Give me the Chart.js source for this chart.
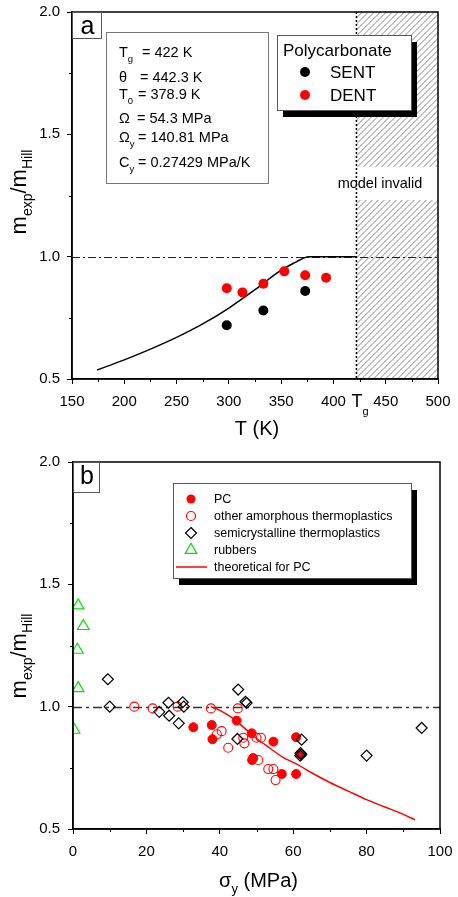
<!DOCTYPE html>
<html><head><meta charset="utf-8">
<script src="https://cdn.jsdelivr.net/npm/chart.js@4.4.0/dist/chart.umd.min.js"></script>
<style>
html,body{margin:0;padding:0;background:#fff;}
canvas{position:absolute;left:0;}
#ca{top:0;}
#cb{top:445px;}
</style></head><body>
<canvas id="ca" width="458" height="445"></canvas>
<canvas id="cb" width="458" height="452"></canvas>
<script>
// ---------- Panel a data ----------
const sentT = [298, 333, 373];
const sentRatio = [0.72, 0.78, 0.86];
const dentT = [298, 313, 333, 353, 373, 393];
const dentRatio = [0.871, 0.854, 0.889, 0.94, 0.924, 0.914];
const modelT = [174, 200, 225, 250, 275, 300, 325, 350, 365, 372, 377, 422];
const modelRatio = [0.537, 0.578, 0.622, 0.67, 0.725, 0.79, 0.865, 0.945, 0.98, 0.995, 1.0, 1.0];
const TG = 422;
const xTicksA = [150, 200, 250, 300, 350, 400, 450, 500];
const yTicks = [0.5, 1.0, 1.5, 2.0];
const paramLines = [
  ['T', 'g', '= 422 K'],
  ['\u03b8', '', '= 442.3 K'],
  ['T', '0', '= 378.9 K'],
  ['\u03a9', '', '= 54.3 MPa'],
  ['\u03a9', 'y', '= 140.81 MPa'],
  ['C', 'y', '= 0.27429 MPa/K']
];

// ---------- Panel b data ----------
const pcSigma = [32.8, 37.8, 38.0, 44.6, 48.7, 48.8, 49.1, 54.6, 56.9, 60.8, 60.8, 61.9];
const pcRatio = [0.916, 0.925, 0.867, 0.943, 0.891, 0.782, 0.79, 0.857, 0.725, 0.875, 0.725, 0.805];
const amorphSigma = [16.7, 21.7, 28.5, 37.6, 44.9, 39.2, 40.5, 42.3, 46.4, 46.7, 50.0, 51.2, 50.5, 53.2, 54.6, 55.2];
const amorphRatio = [1.0, 0.993, 1.0, 0.993, 0.993, 0.887, 0.90, 0.832, 0.873, 0.85, 0.873, 0.873, 0.782, 0.745, 0.745, 0.70];
const semiSigma = [9.5, 10.0, 23.5, 26.0, 26.2, 28.8, 29.9, 30.2, 45.0, 47.0, 47.3, 44.8, 62.3, 62.0, 61.9, 62.2, 80.0, 95.0];
const semiRatio = [1.112, 1.0, 0.979, 1.016, 0.963, 0.932, 1.018, 1.0, 1.07, 1.02, 1.015, 0.868, 0.865, 0.81, 0.80, 0.805, 0.80, 0.913];
const rubberSigma = [1.4, 2.8, 1.2, 1.4, 0.3];
const rubberRatio = [1.413, 1.329, 1.232, 1.075, 0.905];
const theorySigma = [37.5, 40, 42.8, 45, 47.3, 50, 53.7, 57, 61, 65, 70, 75, 80, 85, 90, 93.2];
const theoryRatio = [1.0, 0.985, 0.96, 0.935, 0.905, 0.87, 0.83, 0.795, 0.765, 0.73, 0.69, 0.655, 0.62, 0.59, 0.56, 0.537];
const xTicksB = [0, 20, 40, 60, 80, 100];
const legendB = ['PC', 'other amorphous thermoplastics', 'semicrystalline thermoplastics', 'rubbers', 'theoretical for PC'];

const FONT = "'Liberation Sans', Arial, Helvetica, sans-serif";
const RED = '#ff0000', GREEN = '#00e000';
const pts = (xs, ys) => xs.map((v, i) => ({x: v, y: ys[i]}));
const mids = arr => arr.slice(1).map((v, i) => (v + arr[i]) / 2);

function runs(ctx, x, y, items) {
  let cx = x;
  for (const [t, s, dy] of items) {
    ctx.font = s + 'px ' + FONT;
    ctx.fillText(t, cx, y + dy);
    cx += ctx.measureText(t).width;
  }
  return cx;
}
function runsWidth(ctx, items) {
  let w = 0;
  for (const [t, s] of items) { ctx.font = s + 'px ' + FONT; w += ctx.measureText(t).width; }
  return w;
}
function drawMinor(chart, xs, ys) {
  const {ctx, chartArea: ca, scales: {x, y}} = chart;
  ctx.save();
  ctx.strokeStyle = '#000'; ctx.lineWidth = 1;
  ctx.beginPath();
  xs.forEach(v => { const p = Math.round(x.getPixelForValue(v)) + 0.5; ctx.moveTo(p, ca.bottom); ctx.lineTo(p, ca.bottom + 3); });
  ys.forEach(v => { const p = Math.round(y.getPixelForValue(v)) + 0.5; ctx.moveTo(ca.left, p); ctx.lineTo(ca.left - 3, p); });
  ctx.stroke();
  ctx.restore();
}
function yTitle(ctx, cx, cy) {
  const items = [['m', 22, 0], ['exp', 14, 6], ['/', 22, 0], ['m', 22, 0], ['Hill', 14, 6]];
  ctx.save();
  ctx.translate(cx, cy); ctx.rotate(-Math.PI / 2);
  ctx.fillStyle = '#000'; ctx.textBaseline = 'alphabetic'; ctx.textAlign = 'left';
  const w = runsWidth(ctx, items);
  runs(ctx, -w / 2, 0, items);
  ctx.restore();
}
function frame(chart) {
  const {ctx, chartArea: ca} = chart;
  ctx.save(); ctx.strokeStyle = '#000'; ctx.lineWidth = 1.5;
  ctx.strokeRect(ca.left, ca.top, ca.right - ca.left, ca.bottom - ca.top);
  ctx.restore();
}
function letterBox(ctx, x, y, w, h, letter, cy) {
  ctx.save();
  ctx.fillStyle = '#fff'; ctx.fillRect(x, y, w, h);
  ctx.strokeStyle = '#555'; ctx.lineWidth = 1; ctx.strokeRect(x + 0.5, y + 0.5, w, h);
  ctx.fillStyle = '#000'; ctx.font = '25px ' + FONT; ctx.textAlign = 'center'; ctx.textBaseline = 'middle';
  ctx.fillText(letter, x + w / 2 + 1, cy);
  ctx.restore();
}
function shadowBox(ctx, x, y, w, h, dx, dy) {
  ctx.fillStyle = '#000'; ctx.fillRect(x + dx, y + dy, w, h);
  ctx.fillStyle = '#fff'; ctx.fillRect(x, y, w, h);
  ctx.strokeStyle = '#555'; ctx.lineWidth = 1; ctx.strokeRect(x + 0.5, y + 0.5, w, h);
}

const tickFont = {family: FONT, size: 15};
function scaleX(min, max, ticks, h) {
  return {
    type: 'linear', min, max,
    afterFit(s) { s.height = h; s.paddingLeft = 0; s.paddingRight = 0; },
    afterBuildTicks(s) { s.ticks = ticks.map(v => ({value: v})); },
    ticks: {autoSkip: false, maxRotation: 0, color: '#000', font: tickFont, padding: 9, callback: v => String(v)},
    grid: {drawOnChartArea: false, drawTicks: true, tickLength: 5, color: '#000', lineWidth: 1},
    border: {display: true, color: '#000', width: 1.5}
  };
}
function scaleY(w, pad) {
  return {
    type: 'linear', min: 0.5, max: 2.0,
    afterFit(s) { s.width = w; s.paddingTop = 0; s.paddingBottom = 0; },
    afterBuildTicks(s) { s.ticks = yTicks.map(v => ({value: v})); },
    ticks: {color: '#000', font: tickFont, padding: pad, callback: v => Number(v).toFixed(1)},
    grid: {drawOnChartArea: false, drawTicks: true, tickLength: 5, color: '#000', lineWidth: 1},
    border: {display: true, color: '#000', width: 1.5}
  };
}

// ---------------- Chart a ----------------
const pluginA = {
  id: 'panelA',
  beforeDatasetsDraw(chart) {
    const {ctx, chartArea: ca, scales: {x, y}} = chart;
    const xg = x.getPixelForValue(TG);
    const g1 = y.getPixelForValue(1.366), g2 = y.getPixelForValue(1.232);
    ctx.save();
    const hatch = (top, bottom) => {
      ctx.save();
      ctx.beginPath(); ctx.rect(xg, top, ca.right - xg, bottom - top); ctx.clip();
      ctx.strokeStyle = '#777'; ctx.lineWidth = 0.9;
      const H = ca.bottom - ca.top;
      ctx.beginPath();
      for (let k = xg - H; k < ca.right + 8; k += 6) { ctx.moveTo(k, ca.bottom); ctx.lineTo(k + H, ca.top); }
      ctx.stroke();
      ctx.restore();
    };
    hatch(ca.top, g1); hatch(g2, ca.bottom);
    // dash-dot reference
    const y1 = Math.round(y.getPixelForValue(1.0)) + 0.5;
    ctx.setLineDash([8, 3, 2, 3]); ctx.strokeStyle = '#222'; ctx.lineWidth = 1;
    ctx.beginPath(); ctx.moveTo(ca.left, y1); ctx.lineTo(ca.right, y1); ctx.stroke();
    // dotted Tg line
    ctx.setLineDash([2, 2]); ctx.strokeStyle = '#000'; ctx.lineWidth = 1.5;
    ctx.beginPath(); ctx.moveTo(xg, ca.top); ctx.lineTo(xg, ca.bottom); ctx.stroke();
    ctx.setLineDash([]);
    ctx.fillStyle = '#000'; ctx.font = '14.5px ' + FONT; ctx.textAlign = 'center'; ctx.textBaseline = 'middle';
    ctx.fillText('model invalid', x.getPixelForValue(444.5), y.getPixelForValue(1.295));
    ctx.restore();
  },
  afterDatasetsDraw(chart) {
    const {ctx, chartArea: ca, scales: {x}} = chart;
    frame(chart);
    ctx.save();
    letterBox(ctx, ca.left, ca.top, 29, 26, 'a', ca.top + 15);
    // parameter box
    ctx.fillStyle = '#fff'; ctx.fillRect(106, 32, 162, 151);
    ctx.strokeStyle = '#777'; ctx.lineWidth = 1; ctx.strokeRect(106.5, 32.5, 162, 151);
    ctx.fillStyle = '#000'; ctx.textAlign = 'left'; ctx.textBaseline = 'alphabetic';
    const base = [57, 82, 99, 123, 142, 167];
    const eqx = [142, 140, 138, 137, 138, 138];
    paramLines.forEach((p, i) => {
      runs(ctx, 119, base[i], [[p[0], 14.5, 0], [p[1], 9.5, 5]]);
      ctx.font = '14.5px ' + FONT;
      ctx.fillText(p[2], eqx[i], base[i]);
    });
    // legend
    shadowBox(ctx, 277, 35, 134, 75, 6, 7);
    ctx.fillStyle = '#000'; ctx.font = '17px ' + FONT; ctx.textBaseline = 'middle';
    ctx.fillText('Polycarbonate', 283, 51);
    ctx.fillText('SENT', 330, 73);
    ctx.fillText('DENT', 330, 96);
    ctx.beginPath(); ctx.arc(305, 72, 5, 0, Math.PI * 2); ctx.fillStyle = '#000'; ctx.fill();
    ctx.beginPath(); ctx.arc(305, 95, 5, 0, Math.PI * 2); ctx.fillStyle = RED; ctx.fill();
    ctx.restore();
  },
  afterDraw(chart) {
    const {ctx, chartArea: ca, scales: {x}} = chart;
    drawMinor(chart, mids(xTicksA), mids(yTicks));
    ctx.save();
    ctx.fillStyle = '#000';
    yTitle(ctx, 26, 192);
    ctx.font = '20px ' + FONT; ctx.textAlign = 'center'; ctx.textBaseline = 'middle';
    ctx.fillText('T (K)', (ca.left + ca.right) / 2 + 2, 429);
    // Tg tick label
    const xg = x.getPixelForValue(TG);
    ctx.textAlign = 'left'; ctx.textBaseline = 'alphabetic';
    runs(ctx, xg - 5, 407, [['T', 18, 0], ['g', 11, 8]]);
    ctx.restore();
  }
};

new Chart(document.getElementById('ca'), {
  type: 'scatter',
  data: {
    datasets: [
      {label: 'SENT', data: pts(sentT, sentRatio), pointRadius: 5, pointHoverRadius: 5, backgroundColor: '#000', borderColor: '#000', borderWidth: 0, order: 1},
      {label: 'DENT', data: pts(dentT, dentRatio), pointRadius: 5, pointHoverRadius: 5, backgroundColor: RED, borderColor: RED, borderWidth: 0, order: 2},
      {label: 'model', data: pts(modelT, modelRatio), showLine: true, pointRadius: 0, borderColor: '#000', borderWidth: 1.5, cubicInterpolationMode: 'monotone', fill: false, order: 3}
    ]
  },
  options: {
    responsive: false, animation: false, devicePixelRatio: 1,
    layout: {padding: {top: 12, right: 20, left: 0, bottom: 0}},
    plugins: {legend: {display: false}, tooltip: {enabled: false}},
    scales: {x: scaleX(150, 500, xTicksA, 66), y: scaleY(72, 7)}
  },
  plugins: [pluginA]
});

// ---------------- Chart b ----------------
const pluginB = {
  id: 'panelB',
  beforeDatasetsDraw(chart) {
    const {ctx, chartArea: ca, scales: {y}} = chart;
    ctx.save();
    const y1 = Math.round(y.getPixelForValue(1.0)) + 0.5;
    ctx.setLineDash([9, 4, 3, 4]); ctx.strokeStyle = '#333'; ctx.lineWidth = 1.6;
    ctx.beginPath(); ctx.moveTo(ca.left, y1); ctx.lineTo(ca.right, y1); ctx.stroke();
    ctx.restore();
  },
  afterDatasetsDraw(chart) {
    const {ctx, chartArea: ca} = chart;
    frame(chart);
    ctx.save();
    letterBox(ctx, ca.left, ca.top, 26, 30, 'b', ca.top + 15);
    shadowBox(ctx, 173, 38, 238, 95, 6, 7);
    const ys = [54, 71, 88, 105, 122];
    ctx.font = '12.5px ' + FONT; ctx.textBaseline = 'middle'; ctx.textAlign = 'left'; ctx.fillStyle = '#000';
    legendB.forEach((t, i) => ctx.fillText(t, 214, ys[i] + 1));
    // markers
    ctx.lineWidth = 1.2;
    ctx.beginPath(); ctx.arc(191, ys[0], 4.5, 0, Math.PI * 2); ctx.fillStyle = RED; ctx.fill();
    ctx.beginPath(); ctx.arc(191, ys[1], 4.5, 0, Math.PI * 2); ctx.strokeStyle = RED; ctx.stroke();
    ctx.beginPath(); ctx.moveTo(191, ys[2] - 5.5); ctx.lineTo(196.5, ys[2]); ctx.lineTo(191, ys[2] + 5.5); ctx.lineTo(185.5, ys[2]); ctx.closePath(); ctx.strokeStyle = '#000'; ctx.stroke();
    const r = 6.7;
    ctx.beginPath(); ctx.moveTo(191, ys[3] - r); ctx.lineTo(191 + r * 0.866, ys[3] + r / 2); ctx.lineTo(191 - r * 0.866, ys[3] + r / 2); ctx.closePath(); ctx.strokeStyle = GREEN; ctx.stroke();
    ctx.beginPath(); ctx.moveTo(176, ys[4]); ctx.lineTo(207, ys[4]); ctx.strokeStyle = RED; ctx.lineWidth = 1.5; ctx.stroke();
    ctx.restore();
  },
  afterDraw(chart) {
    const {ctx, chartArea: ca} = chart;
    drawMinor(chart, mids(xTicksB), mids(yTicks));
    ctx.save();
    ctx.fillStyle = '#000';
    yTitle(ctx, 26, 211);
    const items = [['\u03c3', 20, 0], ['y', 13, 6], [' (MPa)', 20, 0]];
    ctx.textBaseline = 'alphabetic'; ctx.textAlign = 'left';
    const w = runsWidth(ctx, items);
    runs(ctx, (ca.left + ca.right) / 2 + 2 - w / 2, 442, items);
    ctx.restore();
  }
};

new Chart(document.getElementById('cb'), {
  type: 'scatter',
  data: {
    datasets: [
      {label: legendB[2], data: pts(semiSigma, semiRatio), pointStyle: 'rectRot', pointRadius: 5.5, pointHoverRadius: 5.5, backgroundColor: 'rgba(0,0,0,0)', borderColor: '#000', borderWidth: 1.2, order: 1},
      {label: legendB[3], data: pts(rubberSigma, rubberRatio), pointStyle: 'triangle', pointRadius: 6.7, pointHoverRadius: 6.7, backgroundColor: 'rgba(0,0,0,0)', borderColor: GREEN, borderWidth: 1.2, order: 2},
      {label: legendB[0], data: pts(pcSigma, pcRatio), pointStyle: 'circle', pointRadius: 4.5, pointHoverRadius: 4.5, backgroundColor: RED, borderColor: RED, borderWidth: 1, order: 3},
      {label: legendB[1], data: pts(amorphSigma, amorphRatio), pointStyle: 'circle', pointRadius: 4.5, pointHoverRadius: 4.5, backgroundColor: 'rgba(0,0,0,0)', borderColor: RED, borderWidth: 1.1, order: 4},
      {label: legendB[4], data: pts(theorySigma, theoryRatio), showLine: true, pointRadius: 0, borderColor: RED, borderWidth: 1.5, cubicInterpolationMode: 'monotone', fill: false, order: 5}
    ]
  },
  options: {
    responsive: false, animation: false, devicePixelRatio: 1,
    layout: {padding: {top: 17, right: 18, left: 0, bottom: 0}},
    plugins: {legend: {display: false}, tooltip: {enabled: false}},
    scales: {x: scaleX(0, 100, xTicksB, 68), y: scaleY(73, 8)}
  },
  plugins: [pluginB]
});
</script>
</body></html>
